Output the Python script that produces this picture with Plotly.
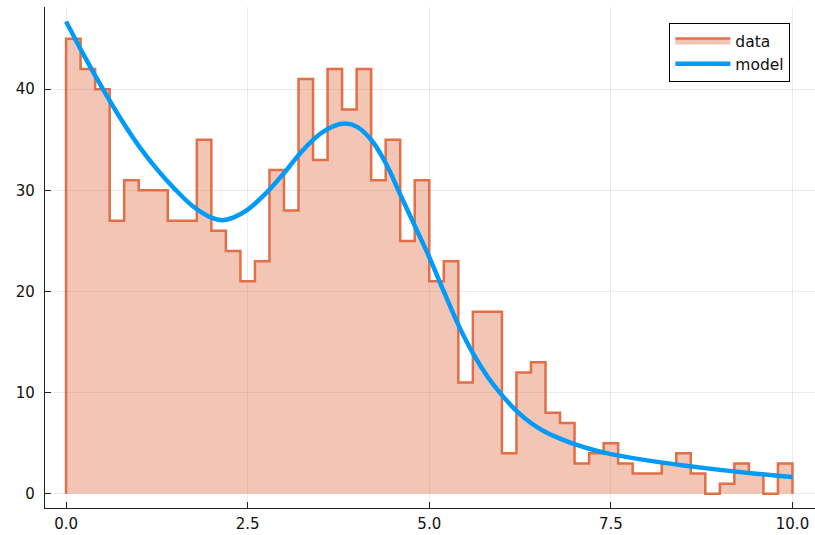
import plotly.graph_objects as go

# Histogram data: bin width 0.2 from 0 to 10
bin_start = 0.0
bin_width = 0.2
counts = [45, 42, 40, 27, 31, 30, 30, 27, 27, 35,
          26, 24, 21, 23, 32, 28, 41, 33, 42, 38,
          42, 31, 35, 25, 31, 21, 23, 11, 18, 18,
          4, 12, 13, 8, 7, 3, 4, 5, 3, 2,
          2, 3, 4, 2, 0, 1, 3, 2, 0, 3]

# Model curve
model_x = [0.0, 0.25, 0.5, 0.75, 1.0, 1.25, 1.5, 1.75, 2.0, 2.15, 2.3, 2.5,
           2.75, 3.0, 3.25, 3.5, 3.7, 3.85, 4.0, 4.2, 4.4, 4.6, 4.8, 5.0,
           5.2, 5.4, 5.6, 5.8, 6.0, 6.2, 6.4, 6.6, 6.8, 7.0, 7.25, 7.5, 8.0,
           8.5, 9.0, 9.5, 10.0]
model_y = [46.7, 43.3, 40.1, 37.1, 34.4, 32.1, 30.1, 28.4, 27.3, 27.05, 27.3, 28.1,
           29.7, 31.7, 33.9, 35.6, 36.4, 36.6, 36.3, 35.0, 32.7, 29.6, 26.5, 23.4,
           20.0, 16.7, 13.9, 11.6, 9.75, 8.2, 7.0, 6.1, 5.45, 4.9, 4.35, 3.92, 3.3,
           2.8, 2.36, 1.98, 1.65]

x_ticks = [0.0, 2.5, 5.0, 7.5, 10.0]
x_tick_labels = ["0.0", "2.5", "5.0", "7.5", "10.0"]
y_ticks = [0, 10, 20, 30, 40]
y_tick_labels = ["0", "10", "20", "30", "40"]

# Build step outline from bin edges
n = len(counts)
edges = [bin_start + i * bin_width for i in range(n + 1)]
hx = [edges[0]] + edges[:n] + [edges[n], edges[n]]
hy = [0] + counts + [counts[-1], 0]

FONT = "DejaVu Sans"
fig = go.Figure()
fig.add_trace(go.Scatter(
    x=hx, y=hy, mode="lines", line=dict(shape="hv", color="#e26f46", width=2.5),
    fill="tozeroy", fillcolor="rgba(226,111,70,0.4)", name="data"))
fig.add_trace(go.Scatter(
    x=model_x, y=model_y, mode="lines",
    line=dict(shape="spline", color="#009af9", width=4.5), name="model"))

axis_common = dict(showgrid=True, gridcolor="rgba(0,0,0,0.08)", gridwidth=1,
                   zeroline=False, showline=True, linecolor="#222", linewidth=1.2,
                   ticks="inside", ticklen=6, tickcolor="#222", tickwidth=1,
                   automargin=False,
                   tickfont=dict(family=FONT, size=15, color="#111"))
fig.update_xaxes(range=[-0.29, 10.31], tickvals=x_ticks, ticktext=x_tick_labels,
                 ticklabelstandoff=2, **axis_common)
fig.update_yaxes(range=[-1.41, 48.13], tickvals=y_ticks, ticktext=y_tick_labels,
                 ticklabelstandoff=6, **axis_common)

fig.update_layout(
    width=815, height=535,
    margin=dict(l=45, r=0, t=7, b=27),
    paper_bgcolor="white", plot_bgcolor="white",
    font=dict(family=FONT, size=15, color="#111"),
    legend=dict(x=0.968, y=0.968, xanchor="right", yanchor="top",
                bordercolor="black", borderwidth=1, bgcolor="white",
                itemwidth=55, font=dict(family=FONT, size=15.5),
                tracegroupgap=0),
    showlegend=True,
)

fig.write_html("out.html", config={"displayModeBar": False},
               post_script="document.body.style.margin='0px';document.body.style.overflow='hidden';")
